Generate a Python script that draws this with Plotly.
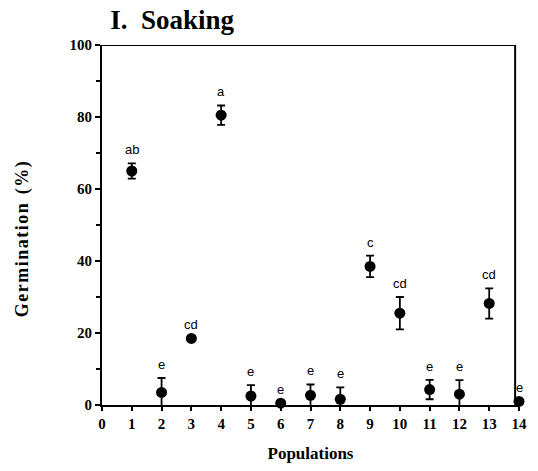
import plotly.graph_objects as go

# population number, mean germination (%) and standard error
populations = [1, 2, 3, 4, 5, 6, 7, 8, 9, 10, 11, 12, 13, 14]
germination = [65, 3.5, 18.5, 80.5, 2.5, 0.5, 2.7, 1.6, 38.5, 25.5, 4.3, 3.0, 28.2, 1.0]
errors = [2.1, 4.0, 0, 2.7, 3.0, 0, 3.0, 3.3, 3.0, 4.5, 2.7, 3.9, 4.2, 0]
letters = ['ab', 'e', 'cd', 'a', 'e', 'e', 'e', 'e', 'c', 'cd', 'e', 'e', 'cd', 'e']

x_ticks = list(range(0, 15))
y_ticks = [0, 20, 40, 60, 80, 100]

serif = "Liberation Serif"
hs = "&#8202;"  # hair space, the original title is letter-spaced
y_title = hs.join("Germination") + "&nbsp;&nbsp;(" + hs + "%" + hs + ")"

fig = go.Figure()

fig.add_trace(go.Scatter(
    x=populations,
    y=germination,
    mode="markers",
    marker=dict(color="black", size=11),
    error_y=dict(type="data", array=errors, visible=True,
                 color="black", thickness=1.8, width=4),
    cliponaxis=False,
    showlegend=False,
    hoverinfo="x+y",
))

# significance letters above each error bar
for xi, yi, ei, lab in zip(populations, germination, errors, letters):
    fig.add_annotation(
        x=xi, y=yi + ei, text=lab, showarrow=False,
        yanchor="bottom", yshift=4,
        font=dict(family="Liberation Sans", size=13, color="black"),
    )

# y axis title placed by hand (sits a bit below the plot centre in the original)
fig.add_annotation(
    x=-0.19, y=0.46, xref="paper", yref="paper", textangle=-90,
    text=f"<b>{y_title}</b>",
    showarrow=False, xanchor="center", yanchor="middle",
    font=dict(family=serif, size=18, color="black"),
)

# frame: top and right lines stop short of x = 14 like the original
fig.add_shape(type="line", xref="x", yref="y", x0=0, x1=13.87, y0=100, y1=100,
              line=dict(color="black", width=2))
fig.add_shape(type="line", xref="x", yref="y", x0=13.87, x1=13.87, y0=1, y1=100,
              line=dict(color="black", width=2))

fig.update_layout(
    width=538, height=471,
    margin=dict(l=102, r=11, t=45, b=63),
    paper_bgcolor="white", plot_bgcolor="white",
    font=dict(family=serif, color="black"),
    title=dict(text="<b>I.  Soaking</b>", x=0.205, xanchor="left",
               y=0.958, yanchor="middle",
               font=dict(family=serif, size=27, color="black")),
    xaxis=dict(
        range=[0, 14], tickvals=x_ticks, ticktext=[f"<b>{t}</b>" for t in x_ticks],
        showgrid=False, zeroline=False, showline=True, linecolor="black", linewidth=2,
        ticks="outside", ticklen=4, tickwidth=1.5, tickcolor="black",
        tickfont=dict(family=serif, size=15, color="black"),
        title=dict(text="<b>Populations</b>", standoff=16,
                   font=dict(family=serif, size=17, color="black")),
    ),
    yaxis=dict(
        range=[0, 100], tickvals=y_ticks, ticktext=[f"<b>{t}</b>" for t in y_ticks],
        showgrid=False, zeroline=False, showline=True, linecolor="black", linewidth=2,
        ticks="outside", ticklen=5, tickwidth=1.5, tickcolor="black",
        minor=dict(tickvals=[10, 30, 50, 70, 90], ticks="outside", ticklen=4,
                   tickcolor="black", tickwidth=1.5),
        tickfont=dict(family=serif, size=15, color="black"),
    ),
)

# drop the page's default body margin so the figure sits at the window corner
fig.write_html("out.html", config={"displayModeBar": False},
               post_script="document.body.style.margin='0';")
